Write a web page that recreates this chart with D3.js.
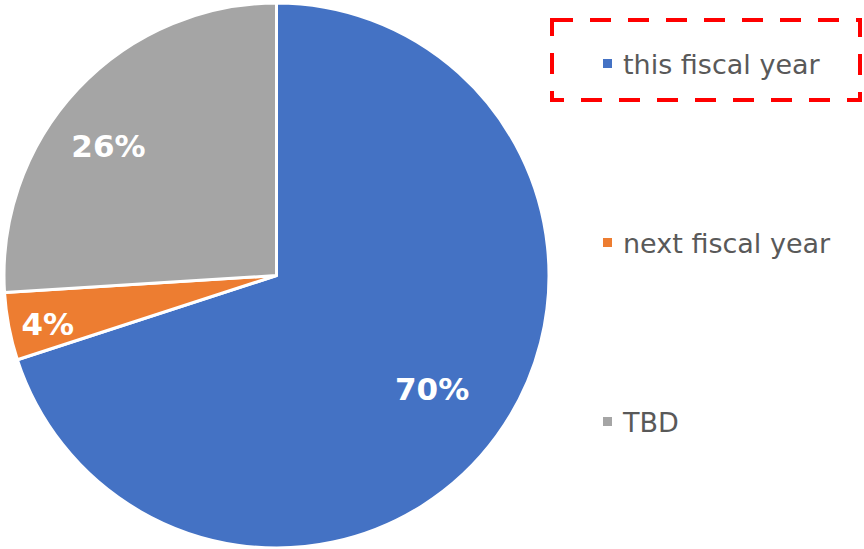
<!DOCTYPE html>
<html>
<head>
<meta charset="utf-8">
<script src="https://cdn.jsdelivr.net/npm/d3@7"></script>
<style>
  html, body { margin: 0; padding: 0; background: #fff; }
  svg { display: block; }
</style>
</head>
<body>
<svg id="chart" width="864" height="549"></svg>
<script>
// Share of items by timing
const categories = ["this fiscal year", "next fiscal year", "TBD"];
const shares = [70, 4, 26];
const colors = ["#4472C4", "#ED7D31", "#A5A5A5"];

const svg = d3.select("#chart");
const cx = 276.5, cy = 275.5, radius = 272.5;

const pie = d3.pie().sort(null).value(d => d.value);
const arcs = pie(categories.map((c, i) => ({ name: c, value: shares[i] })));
const arc = d3.arc().innerRadius(0).outerRadius(radius);

const g = svg.append("g").attr("transform", `translate(${cx},${cy})`);
g.selectAll("path.slice")
  .data(arcs)
  .join("path")
  .attr("class", "slice")
  .attr("d", arc)
  .attr("fill", (d, i) => colors[i])
  .attr("stroke", "#fff")
  .attr("stroke-width", 3)
  .attr("stroke-linejoin", "round");

// Percentage labels: radius fraction and angular nudge (radians) per slice
const labelRadius = [0.706, 0.858, 0.78];
const labelNudge = [0, -0.02, -0.095];
g.selectAll("text.pct")
  .data(arcs)
  .join("text")
  .attr("class", "pct")
  .attr("transform", (d, i) => {
    const a = (d.startAngle + d.endAngle) / 2 + labelNudge[i];
    const r = radius * labelRadius[i];
    return `translate(${Math.sin(a) * r},${-Math.cos(a) * r})`;
  })
  .attr("text-anchor", "middle")
  .attr("dy", "0.36em")
  .attr("fill", "#fff")
  .attr("font-family", "'DejaVu Sans', Verdana, sans-serif")
  .attr("font-weight", "bold")
  .attr("font-size", 31)
  .text(d => d.data.value + "%");

// Legend
const legendY = d3.scalePoint().domain(categories).range([64, 422]);
const legend = svg.append("g");
const items = legend.selectAll("g.item")
  .data(categories)
  .join("g")
  .attr("class", "item")
  .attr("transform", d => `translate(603,${legendY(d)})`);
items.append("rect")
  .attr("x", 0).attr("y", -5)
  .attr("width", 9).attr("height", 9)
  .attr("fill", (d, i) => colors[i]);
items.append("text")
  .attr("x", 20)
  .attr("dy", "0.36em")
  .attr("fill", "#595959")
  .attr("font-family", "'DejaVu Sans', Verdana, sans-serif")
  .attr("font-size", 27)
  .text(d => d);

// Dashed highlight box around the first legend entry
svg.append("rect")
  .attr("x", 552).attr("y", 20)
  .attr("width", 308).attr("height", 80)
  .attr("fill", "none")
  .attr("stroke", "#FF0000")
  .attr("stroke-width", 4)
  .attr("stroke-dasharray", "21 17");
</script>
</body>
</html>
